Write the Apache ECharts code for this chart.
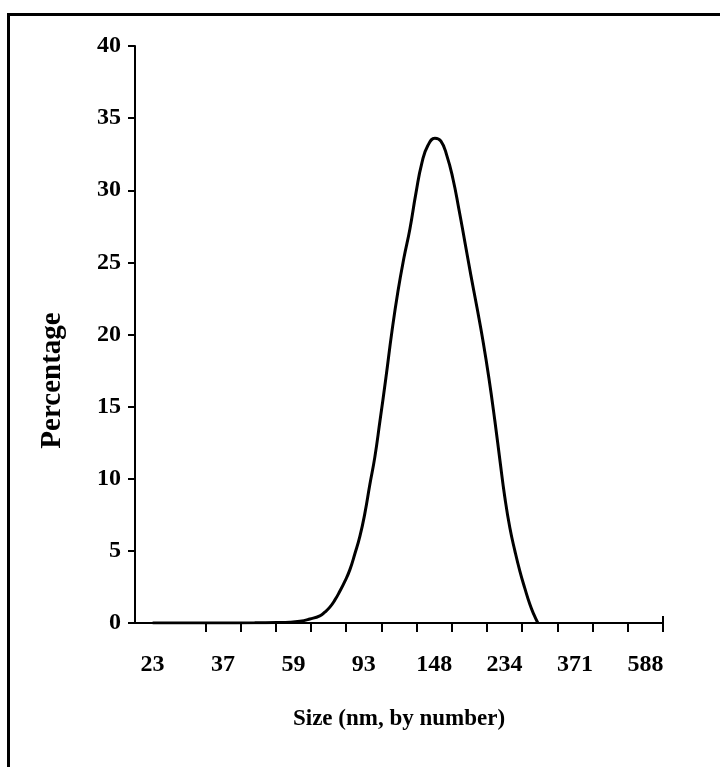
<!DOCTYPE html>
<html>
<head>
<meta charset="utf-8">
<script src="https://cdn.jsdelivr.net/npm/echarts@6/dist/echarts.min.js"></script>
<style>
  html, body { margin: 0; padding: 0; background: #fff; }
  #chart { width: 720px; height: 767px; }
</style>
</head>
<body>
<div id="chart"></div>
<script>
// Size distribution by number (log-spaced size classes)
const sizeNm = [23, 35, 45, 52, 56.7, 60.6, 64.7, 69.1, 71.4, 73.8, 76.3, 78.8, 81.5, 84.2, 87.0,
  89.9, 92.9, 96.0, 99.2, 102.6, 106.7, 111.0, 115.5, 120.1, 124.9, 130.0, 135.2, 140.6, 147.3,
  153.2, 159.3, 165.8, 172.4, 179.4, 186.6, 194.1, 201.9, 210.0, 218.5, 225.8, 233.3, 241.1,
  249.2, 257.5, 266.1, 275.0, 282.3, 289.9];
const percent = [0, 0, 0.01, 0.03, 0.05, 0.12, 0.28, 0.5, 0.75, 1.1, 1.6, 2.2, 2.9, 3.7, 4.8,
  6.0, 7.6, 9.6, 11.5, 14.0, 17.0, 20.2, 23.0, 25.3, 27.3, 29.8, 31.9, 33.1, 33.6,
  33.4, 32.4, 30.8, 28.7, 26.4, 24.1, 21.9, 19.6, 17.0, 14.0, 11.3, 8.7, 6.6,
  5.0, 3.6, 2.4, 1.3, 0.6, 0];

// Size-class labels, printed under every second class
const sizeLabels = ['23', '37', '59', '93', '148', '234', '371', '588'];
// Class positions (in class units) of the labels and of the class-boundary ticks
const labelPos = [0.5, 2.5, 4.5, 6.5, 8.5, 10.5, 12.5, 14.5];
const tickPos = [2, 3, 4, 5, 6, 7, 8, 9, 10, 11, 12, 13, 14, 15];
const classCount = 15;
const yTicks = { min: 0, max: 40, step: 5 };

// Size ratio between neighbouring classes, for the edges of the hidden log axis
const ratio = Math.pow(588 / 23, 1 / 14);
const logMin = 23 / Math.sqrt(ratio);
const logMax = 588 * Math.sqrt(ratio);

const font = '"Liberation Serif", "Times New Roman", serif';
const chart = echarts.init(document.getElementById('chart'), null, { renderer: 'canvas' });

chart.setOption({
  backgroundColor: '#ffffff',
  animation: false,
  grid: { left: 135, right: 57, top: 46, bottom: 144 },
  graphic: [
    { type: 'line', shape: { x1: 7, y1: 14.5, x2: 720, y2: 14.5 }, style: { stroke: '#000', lineWidth: 3 } },
    { type: 'line', shape: { x1: 8.5, y1: 13, x2: 8.5, y2: 767 }, style: { stroke: '#000', lineWidth: 3 } }
  ],
  xAxis: [
    {
      // class axis: carries the axis line, boundary ticks and size labels
      type: 'value',
      min: 0,
      max: classCount,
      name: 'Size (nm, by number)',
      nameLocation: 'middle',
      nameGap: 85,
      nameTextStyle: { fontFamily: font, fontWeight: 'bold', fontSize: 23, color: '#000' },
      axisLine: {
        show: true,
        lineStyle: { color: '#000', width: 2 },
        symbol: ['none', 'rect'],
        symbolSize: [14, 2]
      },
      axisTick: {
        show: true,
        length: 9,
        lineStyle: { color: '#000', width: 2 },
        customValues: tickPos
      },
      axisLabel: {
        margin: 30,
        customValues: labelPos,
        formatter: (v) => sizeLabels[labelPos.indexOf(v)] || '',
        fontFamily: font, fontWeight: 'bold', fontSize: 24, color: '#000'
      },
      splitLine: { show: false }
    },
    {
      // hidden log-size axis the curve is plotted on
      type: 'log',
      logBase: 10,
      min: logMin,
      max: logMax,
      show: false,
      position: 'bottom'
    }
  ],
  yAxis: {
    type: 'value',
    min: yTicks.min,
    max: yTicks.max,
    interval: yTicks.step,
    name: 'Percentage',
    nameLocation: 'middle',
    nameGap: 68,
    nameRotate: 90,
    nameTextStyle: {
      fontFamily: font, fontWeight: 'bold', fontSize: 29, color: '#000',
      padding: [0, 92, 0, 0]
    },
    axisLine: { show: true, lineStyle: { color: '#000', width: 2 } },
    axisTick: { show: true, length: 7, lineStyle: { color: '#000', width: 2 } },
    axisLabel: { margin: 14, fontFamily: font, fontWeight: 'bold', fontSize: 24, color: '#000' },
    splitLine: { show: false }
  },
  series: [{
    type: 'line',
    xAxisIndex: 1,
    data: sizeNm.map((s, i) => [s, percent[i]]),
    smooth: 0.5,
    showSymbol: false,
    lineStyle: { color: '#000', width: 3 }
  }]
});
</script>
</body>
</html>
